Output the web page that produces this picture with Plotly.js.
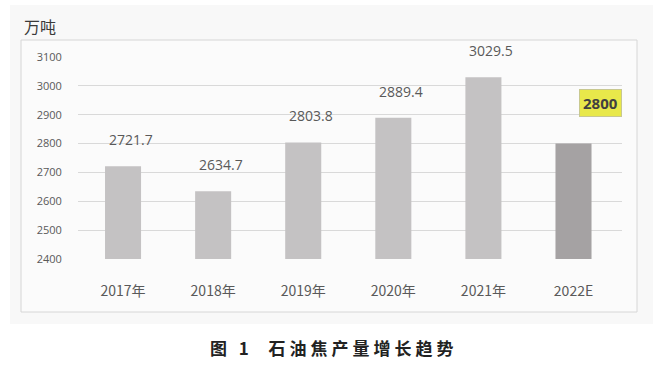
<!DOCTYPE html>
<html>
<head>
<meta charset="utf-8">
<script src="https://cdn.plot.ly/plotly-3.0.1.min.js"></script>
<style>
html,body{margin:0;padding:0;background:#fff;}
#chart{width:669px;height:377px;}
.caption .annotation-text{letter-spacing:4px;}
</style>
</head>
<body>
<div id="chart"></div>
<script>
const categories = ["2017年", "2018年", "2019年", "2020年", "2021年", "2022E"];
const values = [2721.7, 2634.7, 2803.8, 2889.4, 3029.5, 2800];
const valueLabels = ["2721.7", "2634.7", "2803.8", "2889.4", "3029.5", "2800"];
const barColors = ["#c4c2c3", "#c4c2c3", "#c4c2c3", "#c4c2c3", "#c4c2c3", "#a5a2a3"];
const unitLabel = "万吨";
const captionText = "图 1  石油焦产量增长趋势";

const numFont = "'Open Sans', 'Noto Sans', sans-serif";
const cjkFont = "'Noto Sans CJK SC', 'Noto Sans', sans-serif";

const annotations = [];
categories.forEach((c, i) => {
  if (i < categories.length - 1) {
    annotations.push({
      x: c, y: values[i], xref: 'x', yref: 'y',
      text: valueLabels[i], showarrow: false,
      xanchor: 'center', yanchor: 'bottom', xshift: 8, yshift: 15,
      font: {family: numFont, size: 14, color: '#595959'}
    });
  } else {
    annotations.push({
      x: c, y: values[i], xref: 'x', yref: 'y',
      text: '<b>' + valueLabels[i] + '</b>', showarrow: false,
      xanchor: 'center', yanchor: 'middle', xshift: 27, yshift: 41,
      font: {family: numFont, size: 15, color: '#404040'},
      bgcolor: '#e8e84a', bordercolor: '#c8c890', borderwidth: 1, borderpad: 3
    });
  }
});
annotations.push({
  xref: 'paper', yref: 'paper', x: -0.103, y: 1.155, xanchor: 'left', yanchor: 'middle',
  text: unitLabel, showarrow: false,
  font: {family: cjkFont, size: 16, color: '#3a3a3a'}
});
annotations.push({
  xref: 'paper', yref: 'paper', x: 0.47, y: -0.44, xanchor: 'center', yanchor: 'middle',
  text: '<b>' + captionText + '</b>', showarrow: false, captureevents: false,
  font: {family: cjkFont, size: 17, color: '#222222'}
});

const data = [{
  type: 'bar', x: categories, y: values,
  marker: {color: barColors, line: {width: 0}},
  hoverinfo: 'none'
}];

const layout = {
  width: 669, height: 377,
  margin: {l: 78, r: 47, t: 57, b: 118},
  paper_bgcolor: '#ffffff', plot_bgcolor: 'rgba(0,0,0,0)',
  showlegend: false, bargap: 0.6,
  xaxis: {
    type: 'category', showgrid: false, zeroline: false, showline: false,
    ticks: 'outside', ticklen: 19, tickcolor: 'rgba(0,0,0,0)',
    tickfont: {family: cjkFont, size: 14, color: '#595959'}
  },
  yaxis: {
    range: [2400, 3100], dtick: 100, tick0: 2400,
    showgrid: true, gridcolor: '#d9d9d9', gridwidth: 1, zeroline: false, showline: false,
    ticks: 'outside', ticklen: 13, tickcolor: 'rgba(0,0,0,0)',
    tickfont: {family: numFont, size: 11, color: '#595959'}
  },
  shapes: [
    {type: 'rect', xref: 'paper', yref: 'paper', layer: 'below',
     x0: -68/544, x1: 575/544, y0: (259-324)/202, y1: (259-5)/202,
     fillcolor: '#f8f8f8', line: {width: 0}},
    {type: 'rect', xref: 'paper', yref: 'paper', layer: 'below',
     x0: -57/544, x1: 559/544, y0: (259-312)/202, y1: (259-40)/202,
     fillcolor: '#fbfbfb', line: {color: '#d6d6d6', width: 1}}
  ],
  annotations: annotations
};
Plotly.newPlot('chart', data, layout, {displayModeBar: false, staticPlot: true}).then(() => {
  const anns = document.querySelectorAll('.annotation');
  if (anns.length) anns[anns.length - 1].classList.add('caption');
});
</script>
</body>
</html>
